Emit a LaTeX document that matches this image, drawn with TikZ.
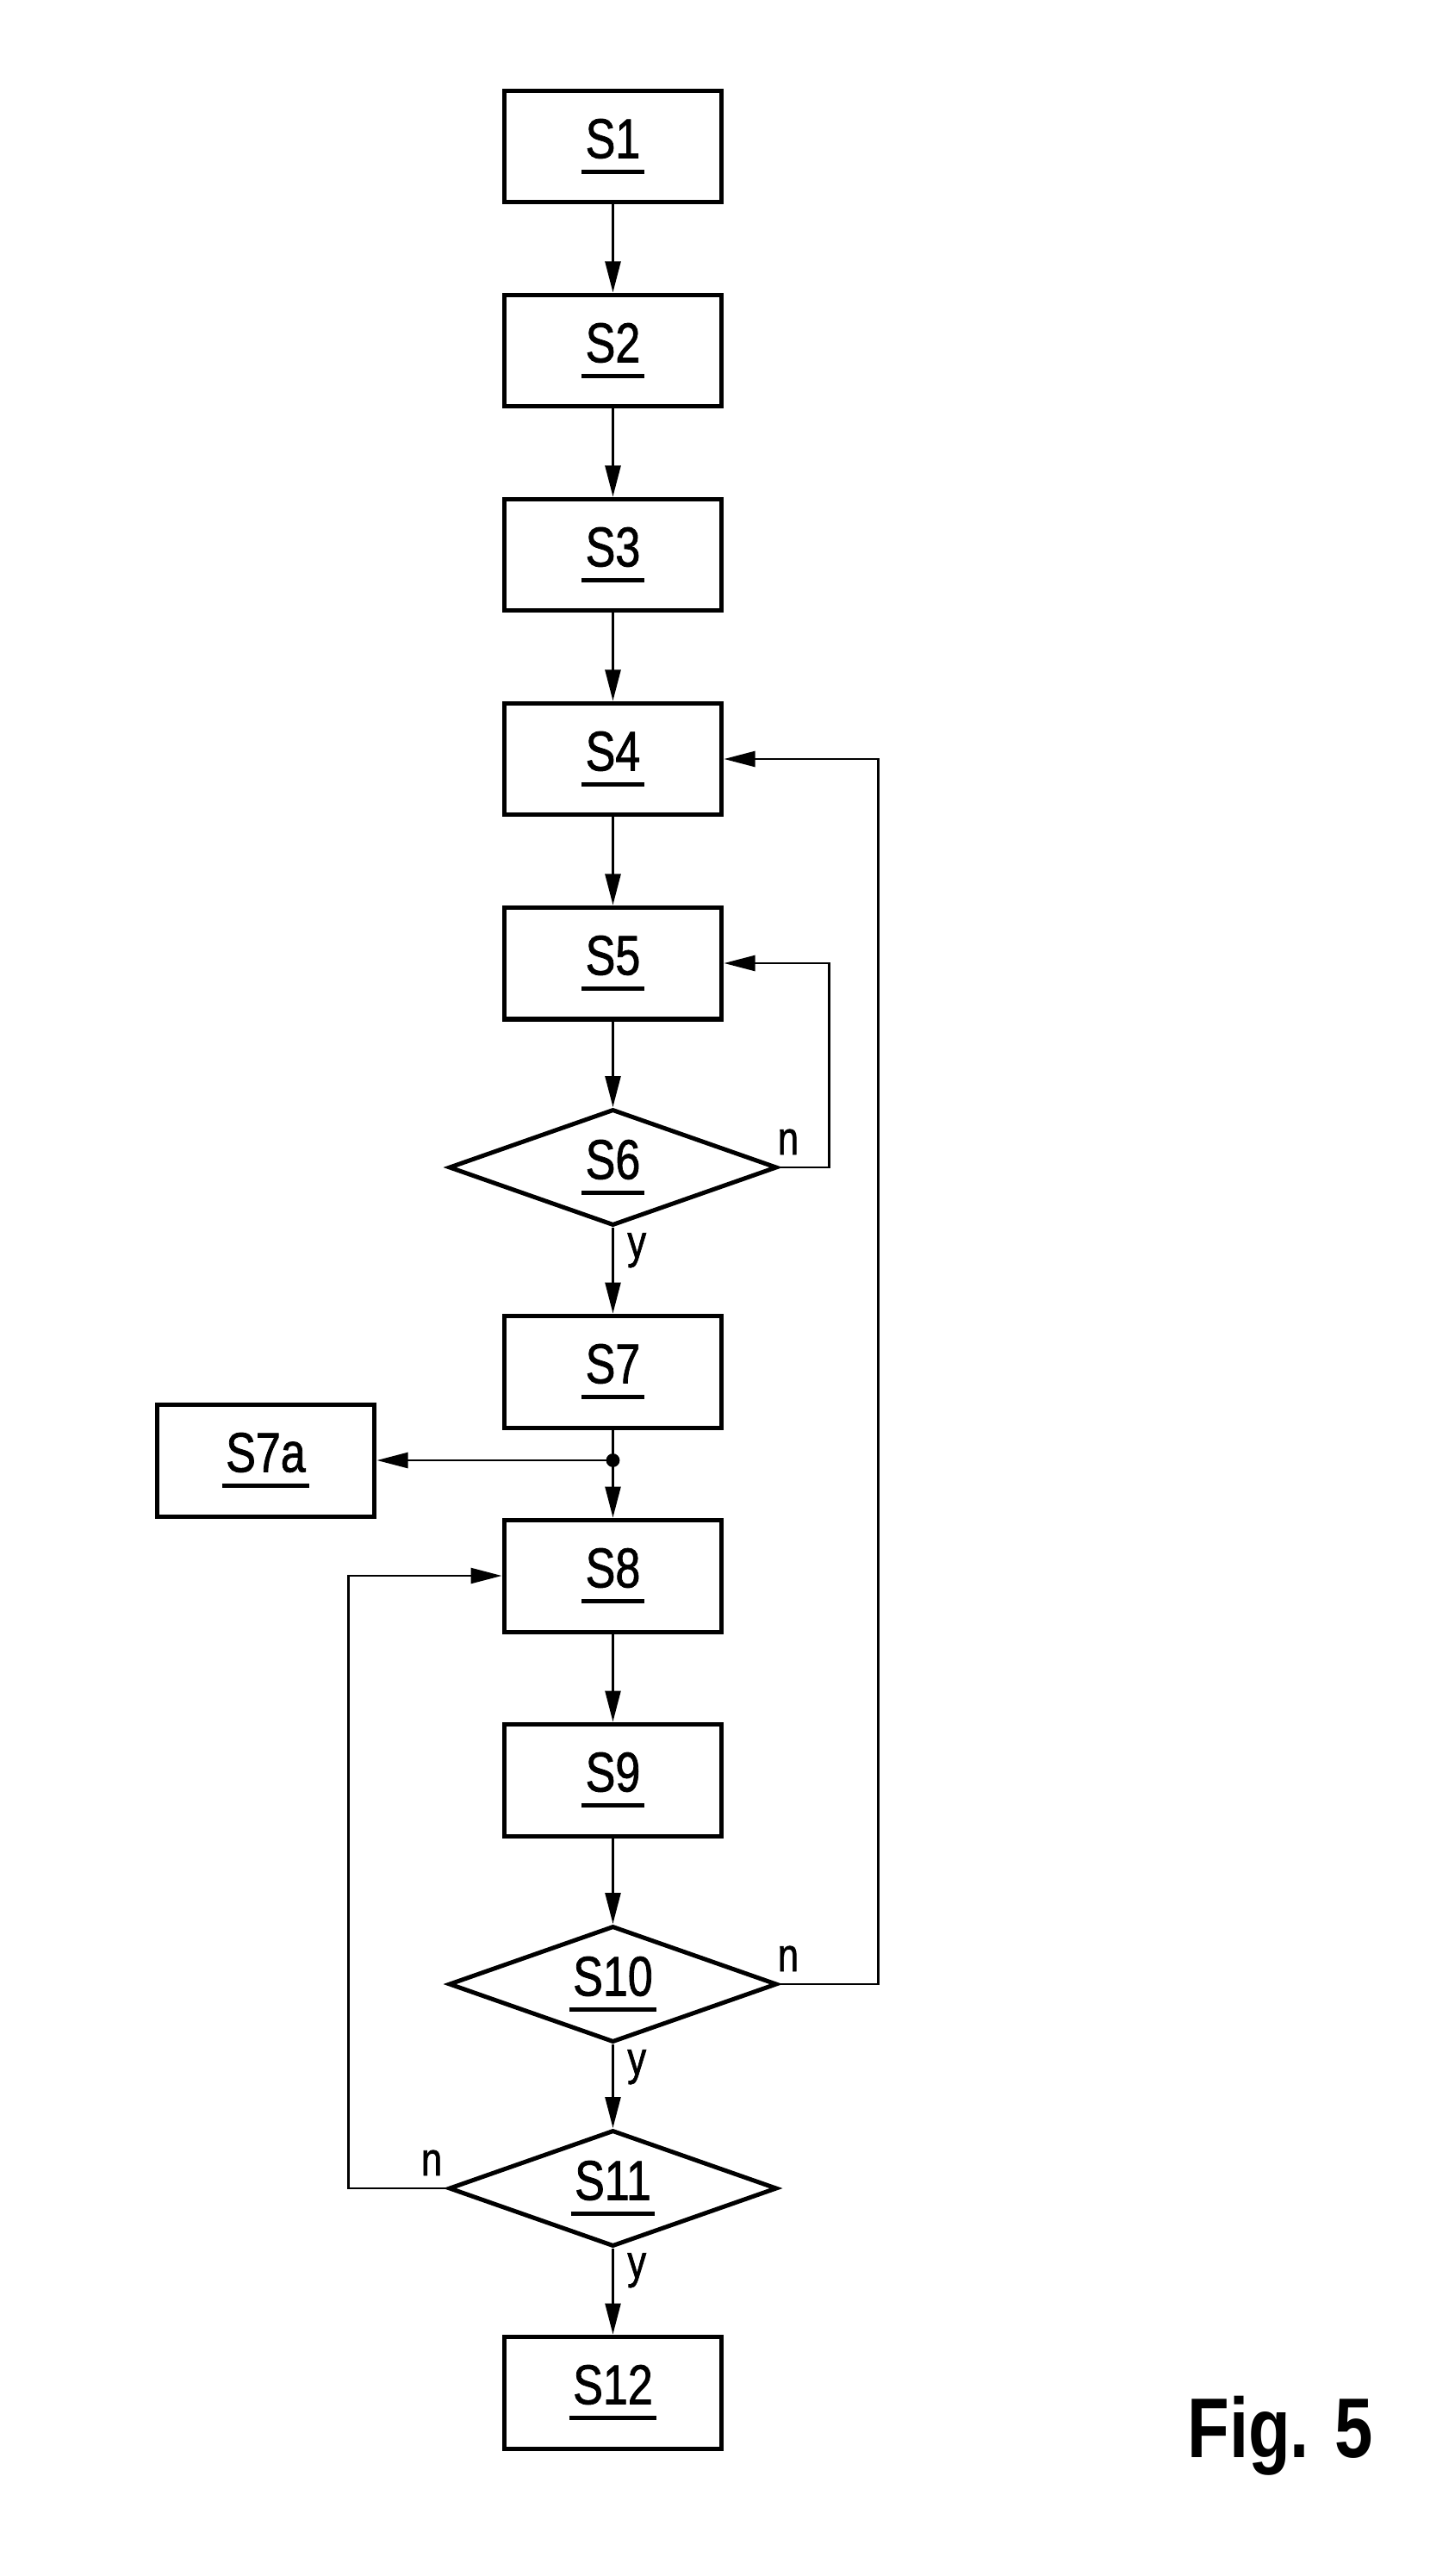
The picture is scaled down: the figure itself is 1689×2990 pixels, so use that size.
\documentclass[tikz,border=0pt]{standalone}
\usepackage{fontspec}
\setmainfont{Liberation Sans}[FakeStretch=0.8, FakeBold=1.2]
\newfontfamily\figfont{Liberation Sans}[FakeStretch=0.81]
\usetikzlibrary{shapes.geometric,arrows.meta}

\newcommand{\steplabel}[1]{\setbox0=\hbox{#1}\vtop{\hbox{\kern2.6pt\box0\kern2.6pt}\kern7.4pt\hrule height 2.85pt}}

\begin{document}
\begin{tikzpicture}[x=0.02cm,y=-0.02cm,
		stepbox/.style={draw, line width=2.85pt, minimum width=5.06cm, minimum height=2.6cm, inner sep=0pt, font=\fontsize{37}{40}\selectfont},
		decision/.style={diamond, draw, aspect=2.8, line width=2.85pt, minimum width=7.62cm, minimum height=2.7cm, inner sep=0pt, font=\fontsize{37}{40}\selectfont},
		flow/.style={line width=1.55pt, -{Triangle[length=20.5pt,width=10.2pt]}},
		answer/.style={inner sep=0pt, font=\fontsize{31}{34}\selectfont}]
	\useasboundingbox (0,0) rectangle (1689,2990);

	\foreach \n/\y in {1/170, 2/407, 3/644, 4/881, 5/1118, 7/1592, 8/1829, 9/2066, 12/2777}{
		\node[stepbox] (s\n) at (711.5,\y) {\steplabel{S\n}};
	}
	\foreach \n/\y in {6/1355, 10/2303, 11/2540}{
		\node[decision] (s\n) at (711.5,\y) {\steplabel{S\n}};
	}
	\node[stepbox] (s7a) at (308.5,1695) {\steplabel{S7a}};

	\foreach \a/\b in {s1/s2, s2/s3, s3/s4, s4/s5, s5/s6, s6/s7, s8/s9, s9/s10, s10/s11, s11/s12}{
		\draw[flow] (\a) -- (\b);
	}

	\coordinate (j7) at (711.5,1695);
	\draw[line width=1.55pt] (s7) -- (j7);
	\draw[flow] (j7) -- (s8);
	\draw[flow] (j7) -- (s7a);
	\fill (j7) circle[radius=4.5pt];

	\draw[flow] (s6.east) -- ++(58,0) |- (s5.east);
	\draw[flow] (s10.east) -- ++(115,0) |- (s4.east);
	\draw[flow] (s11.west) -- ++(-114,0) |- (s8.west);

	\node[answer, anchor=base west] (s6n) at ([shift={(-2,-15)}]s6.east) {n};
	\node[answer, anchor=base west] (s6y) at ([shift={(16.5,35)}]s6.south) {y};
	\node[answer, anchor=base west] (s10n) at ([shift={(-2,-15)}]s10.east) {n};
	\node[answer, anchor=base west] (s10y) at ([shift={(16.5,35)}]s10.south) {y};
	\node[answer, anchor=base east] (s11n) at ([shift={(-5,-15)}]s11.west) {n};
	\node[answer, anchor=base west] (s11y) at ([shift={(16.5,34)}]s11.south) {y};

	\node[anchor=base west, inner sep=0pt, font=\figfont\bfseries\fontsize{56}{60}\selectfont] (fig) at (1378,2852) {Fig. 5};
\end{tikzpicture}
\end{document}
